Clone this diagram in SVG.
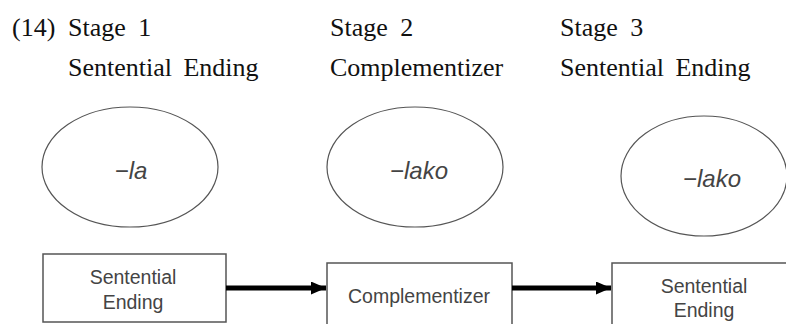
<svg xmlns="http://www.w3.org/2000/svg" width="786" height="324" viewBox="0 0 786 324">
<style>
.hdr{font-family:"Liberation Serif","Times New Roman",serif;font-size:26px;fill:#111;}
.ell{fill:none;stroke:#555;stroke-width:1.2;}
.box{fill:#fff;stroke:#555;stroke-width:1.5;}
.it{font-family:"Liberation Sans",Arial,sans-serif;font-style:italic;font-size:24px;fill:#444;text-anchor:middle;}
.bt{font-family:"Liberation Sans",Arial,sans-serif;font-size:19.5px;fill:#444;text-anchor:middle;}
.conn{stroke:#000;stroke-width:5;fill:none;}
</style>
<defs>
<marker id="ah" markerWidth="3" markerHeight="2.6" refX="3" refY="1.3" orient="auto" markerUnits="strokeWidth">
<path d="M0,0 L3,1.3 L0,2.6 Z" fill="#000"/>
</marker>
</defs>
<rect width="786" height="324" fill="#fff"/>
<g id="header">
<text class="hdr" x="12" y="36">(14)</text>
<text class="hdr" x="68" y="36" word-spacing="6">Stage 1</text>
<text class="hdr" x="330" y="36" word-spacing="6">Stage 2</text>
<text class="hdr" x="560" y="36" word-spacing="6">Stage 3</text>
<text class="hdr" x="68" y="76" word-spacing="5">Sentential Ending</text>
<text class="hdr" x="330" y="76">Complementizer</text>
<text class="hdr" x="560" y="76" word-spacing="5">Sentential Ending</text>
</g>
<g id="ellipse1">
<ellipse class="ell" cx="130" cy="167" rx="88" ry="60"/>
<text class="it" x="131" y="179">−la</text>
</g>
<g id="ellipse2">
<ellipse class="ell" cx="415" cy="167" rx="88" ry="60"/>
<text class="it" x="419" y="179">−lako</text>
</g>
<g id="ellipse3">
<ellipse class="ell" cx="704" cy="176" rx="83" ry="60"/>
<text class="it" x="712" y="187">−lako</text>
</g>
<g id="box1">
<rect class="box" x="43" y="254" width="183" height="68"/>
<text class="bt" x="133" y="284">Sentential</text>
<text class="bt" x="133" y="309">Ending</text>
</g>
<g id="box2">
<rect class="box" x="327" y="263" width="185" height="70"/>
<text class="bt" x="419" y="303">Complementizer</text>
</g>
<g id="box3">
<rect class="box" x="612" y="263" width="185" height="70"/>
<text class="bt" x="704" y="293">Sentential</text>
<text class="bt" x="704" y="317">Ending</text>
</g>
<g id="connectors">
<line class="conn" x1="226" y1="288" x2="326" y2="288" marker-end="url(#ah)"/>
<line class="conn" x1="512" y1="288" x2="611" y2="288" marker-end="url(#ah)"/>
</g>
</svg>
